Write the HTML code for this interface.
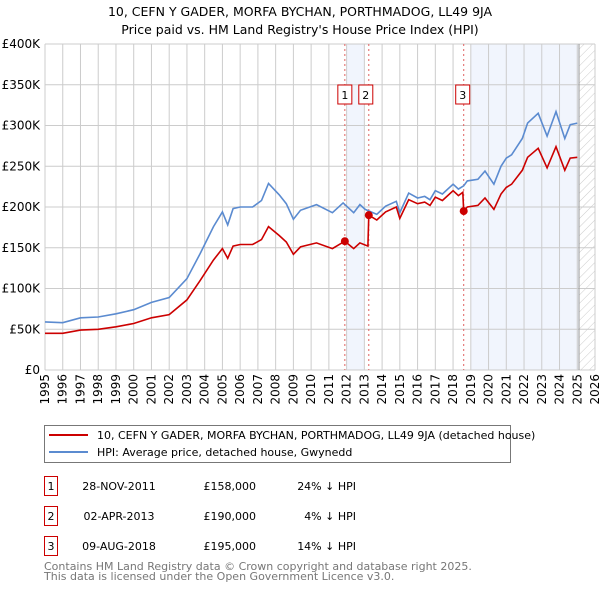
<!DOCTYPE html>
<html><head><meta charset="utf-8"><style>
body{margin:0;background:#fff;}
svg{display:block;font-family:"DejaVu Sans","Liberation Sans",sans-serif;}
</style></head><body>
<svg id="chart" width="600" height="590" viewBox="0 0 600 590" xmlns="http://www.w3.org/2000/svg">
<text x="300" y="16" text-anchor="middle" font-size="12.5" fill="#000">10, CEFN Y GADER, MORFA BYCHAN, PORTHMADOG, LL49 9JA</text>
<text x="300" y="34" text-anchor="middle" font-size="12.5" fill="#000">Price paid vs. HM Land Registry's House Price Index (HPI)</text>
<g id="plot"></g>
<g>
<rect x="44.5" y="425.5" width="466" height="37" fill="#fff" stroke="#777"/>
<line x1="49" y1="435" x2="88" y2="435" stroke="#cc0000" stroke-width="2"/>
<text x="97" y="439" font-size="11">10, CEFN Y GADER, MORFA BYCHAN, PORTHMADOG, LL49 9JA (detached house)</text>
<line x1="49" y1="452" x2="88" y2="452" stroke="#5b8bd0" stroke-width="2"/>
<text x="97" y="456" font-size="11">HPI: Average price, detached house, Gwynedd</text>
</g>
<g font-size="11">
<g><rect x="44.5" y="476.5" width="13" height="19" fill="#fff" stroke="#cc0000"/><text x="51" y="490" text-anchor="middle">1</text><text x="119" y="490" text-anchor="middle">28-NOV-2011</text><text x="256" y="490" text-anchor="end">£158,000</text><text x="356" y="490" text-anchor="end">24% ↓ HPI</text></g>
<g><rect x="44.5" y="506.5" width="13" height="19" fill="#fff" stroke="#cc0000"/><text x="51" y="520" text-anchor="middle">2</text><text x="119" y="520" text-anchor="middle">02-APR-2013</text><text x="256" y="520" text-anchor="end">£190,000</text><text x="356" y="520" text-anchor="end">4% ↓ HPI</text></g>
<g><rect x="44.5" y="536.5" width="13" height="19" fill="#fff" stroke="#cc0000"/><text x="51" y="550" text-anchor="middle">3</text><text x="119" y="550" text-anchor="middle">09-AUG-2018</text><text x="256" y="550" text-anchor="end">£195,000</text><text x="356" y="550" text-anchor="end">14% ↓ HPI</text></g>
</g>
<text x="44" y="570" font-size="11" fill="#777">Contains HM Land Registry data © Crown copyright and database right 2025.</text>
<text x="44" y="580" font-size="11" fill="#777">This data is licensed under the Open Government Licence v3.0.</text>
</svg>
<script>
const yTicks=[0,50000,100000,150000,200000,250000,300000,350000,400000];
const yTickLabels=["£0","£50K","£100K","£150K","£200K","£250K","£300K","£350K","£400K"];
const xTicks=[1995,1996,1997,1998,1999,2000,2001,2002,2003,2004,2005,2006,2007,2008,2009,2010,2011,2012,2013,2014,2015,2016,2017,2018,2019,2020,2021,2022,2023,2024,2025,2026];
const hpiYears=[1995,1996,1997,1998,1999,2000,2001,2002,2003,2003.75,2004.5,2005,2005.3,2005.6,2006,2006.7,2007.2,2007.6,2008.2,2008.6,2009,2009.4,2010.3,2011.2,2011.8,2012.4,2012.75,2013.05,2013.7,2014.2,2014.8,2015,2015.5,2016,2016.4,2016.7,2017,2017.4,2018,2018.3,2018.6,2018.8,2019.4,2019.8,2020.3,2020.7,2021,2021.3,2021.9,2022.2,2022.8,2023.3,2023.8,2024.3,2024.6,2025];
const hpiValues=[59,58,64,65,69,74,83,89,112,143,176,194,178,198,200,200,208,229,215,204,185,196,203,193,205,193,203,197,191,201,207,193,217,211,213,209,220,216,228,222,226,232,234,244,228,250,260,264,284,303,315,287,317,284,301,303];
const priceYears=[1995,1996,1997,1998,1999,2000,2001,2002,2003,2003.75,2004.5,2005,2005.3,2005.6,2006,2006.7,2007.2,2007.6,2008.2,2008.6,2009,2009.4,2010.3,2011.2,2011.9,2012.4,2012.75,2013.2,2013.25,2013.7,2014.2,2014.8,2015,2015.5,2016,2016.4,2016.7,2017,2017.4,2018,2018.3,2018.55,2018.6,2018.8,2019.4,2019.8,2020.3,2020.7,2021,2021.3,2021.9,2022.2,2022.8,2023.3,2023.8,2024.3,2024.6,2025];
const priceValues=[45,45,49,50,53,57,64,68,86,110,135,149,137,152,154,154,160,176,165,157,142,151,156,149,158,149,156,152,190,184,194,200,186,209,204,206,202,212,208,220,214,218,195,200,202,211,197,216,224,228,245,261,272,248,274,245,260,261];
const saleYears=[2011.9,2013.25,2018.6];
const saleValues=[158,190,195];
const saleLabels=["1","2","3"];
const shadeStarts=[2012,2019];
const shadeEnds=[2013,2025.1];

const X0=45,X1=595,Y0=370,Y1=44,NS="http://www.w3.org/2000/svg";
const xs=y=>X0+(y-1995)/(2026-1995)*(X1-X0);
const ys=v=>Y0-v/400000*(Y0-Y1);
const plot=document.getElementById('plot');
function mk(t,a,p){const e=document.createElementNS(NS,t);for(const k in a)e.setAttribute(k,a[k]);(p||plot).appendChild(e);return e;}
for(let i=0;i<shadeStarts.length;i++){
 const r=mk('rect',{x:xs(shadeStarts[i]),y:Y1,width:xs(shadeEnds[i])-xs(shadeStarts[i]),height:Y0-Y1,fill:'#eef2fc',opacity:'0.8'});
 
 
}
const defs=mk('defs',{});
const pat=mk('pattern',{id:'hatch',width:6,height:6,patternUnits:'userSpaceOnUse',patternTransform:'rotate(45)'},defs);
mk('line',{x1:0,y1:0,x2:0,y2:6,stroke:'#ccc','stroke-width':1},pat);
const hr=mk('rect',{x:xs(2025.1),y:Y1,width:X1-xs(2025.1),height:Y0-Y1,fill:'url(#hatch)'});


yTicks.forEach((v,i)=>{
 const g=mk('line',{x1:X0,x2:X1,y1:ys(v),y2:ys(v),stroke:'#ccc','stroke-width':1});
 
 
 const t=mk('text',{x:40,y:ys(v)+4,'text-anchor':'end','font-size':'12'});
 t.textContent=yTickLabels[i];
 
 
});
xTicks.forEach(y=>{
 const g=mk('line',{x1:xs(y),x2:xs(y),y1:Y1,y2:Y0,stroke:'#ccc','stroke-width':1});
 
 
 const t=mk('text',{x:0,y:0,'text-anchor':'end','font-size':'12',transform:`translate(${xs(y)+4},374) rotate(-90)`});
 t.textContent=y;
 
 
});
const nl=mk('line',{x1:xs(2025.1),x2:xs(2025.1),y1:Y1,y2:Y0,stroke:'#999','stroke-width':1});


saleYears.forEach((y,i)=>{
 const l=mk('line',{x1:xs(y),x2:xs(y),y1:Y1,y2:Y0,stroke:'#e06060','stroke-width':1,'stroke-dasharray':'2,3'});
 
 
 const b=mk('rect',{x:xs(y)-7-(i==2?1:0)+(i==1?-3:0),y:85,width:14,height:19,fill:'#fff',stroke:'#cc0000'});
 
 
 const t=mk('text',{x:xs(y)+(i==1?-3:0)-(i==2?1:0),y:99,'text-anchor':'middle','font-size':'11'});
 t.textContent=saleLabels[i];
 
 
});
const hp=mk('path',{d:hpiYears.map((y,i)=>(i?'L':'M')+xs(y).toFixed(1)+','+ys(hpiValues[i]*1000).toFixed(1)).join(''),fill:'none',stroke:'#5b8bd0','stroke-width':1.6});


const pp=mk('path',{d:priceYears.map((y,i)=>(i?'L':'M')+xs(y).toFixed(1)+','+ys(priceValues[i]*1000).toFixed(1)).join(''),fill:'none',stroke:'#cc0000','stroke-width':1.6});


saleYears.forEach((y,i)=>{
 const c=mk('circle',{cx:xs(y),cy:ys(saleValues[i]*1000),r:4,fill:'#cc0000'});
 
 
});
</script>
</body></html>
